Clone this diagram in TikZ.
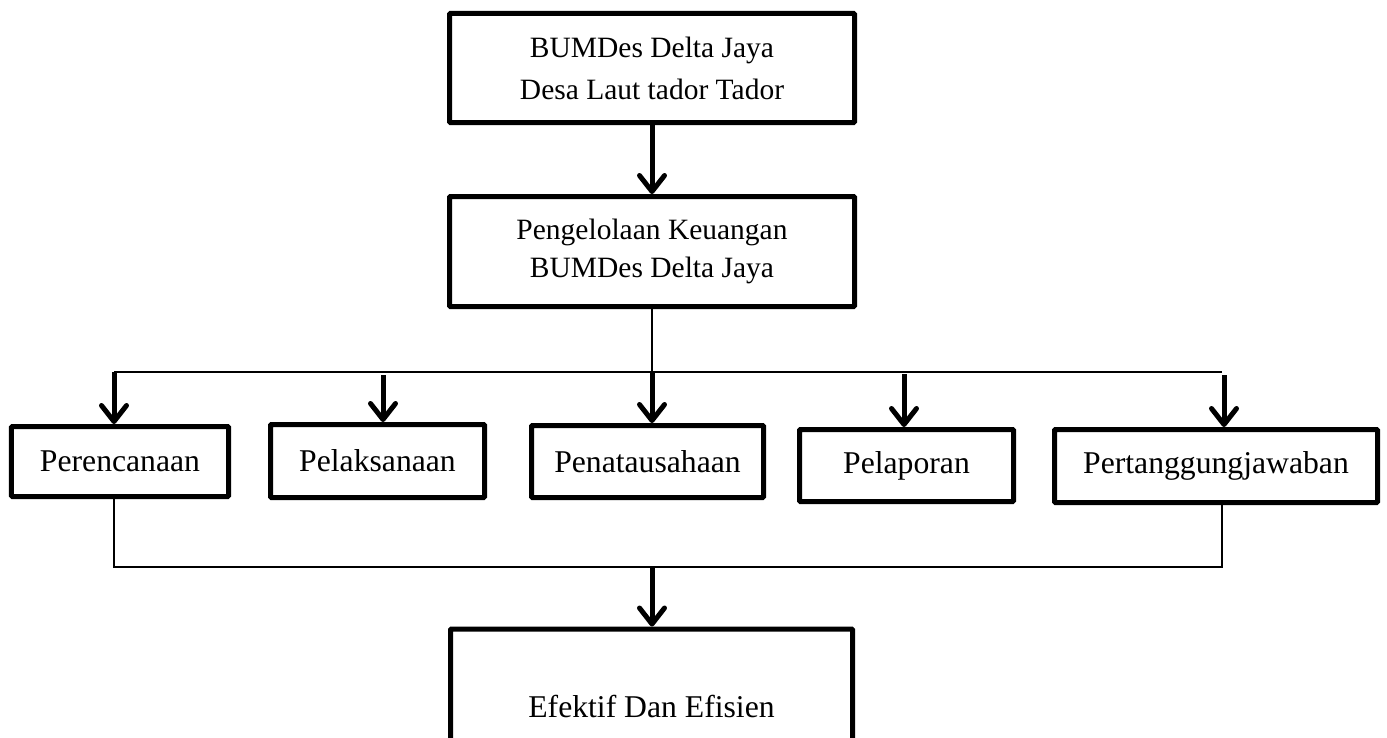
\documentclass[tikz,border=0pt]{standalone}
\usepackage{fontspec}
\setmainfont{Liberation Serif}
\usetikzlibrary{arrows.meta}
\begin{document}
\begin{tikzpicture}[x=1bp,y=-1bp,
  box/.style={draw, line width=5bp, inner sep=0pt, align=center, rounded corners=1bp,
    font=\fontsize{31.8}{40}\selectfont},
  thinline/.style={line width=1.4bp},
  arr/.style={line width=5bp, -{Straight Barb[length=16bp,width=25bp,round]}}]
\useasboundingbox (0,0) rectangle (1387,737);
\node[box, minimum width=405bp, minimum height=109bp, font=\fontsize{29.6}{42}\selectfont] (top) at (652,68) {BUMDes Delta Jaya\\Desa Laut tador Tador};
\node[box, minimum width=405bp, minimum height=110bp, font=\fontsize{29.6}{38}\selectfont] (mid) at (652,251.5) {Pengelolaan Keuangan\\BUMDes Delta Jaya};
\node[box, minimum width=217bp, minimum height=70bp] (per) at (120,461.5) {Perencanaan};
\node[box, minimum width=214bp, minimum height=73bp] (pel) at (377.5,461) {Pelaksanaan};
\node[box, minimum width=232bp, minimum height=72bp] (pen) at (647.5,461.5) {Penatausahaan};
\node[box, minimum width=214bp, minimum height=72bp] (lap) at (906.5,465.5) {Pelaporan};
\node[box, minimum width=323bp, minimum height=73bp] (tj) at (1216,466) {Pertanggungjawaban};
\node[box, minimum width=402bp, minimum height=154bp] (ef) at (651.5,706) {Efektif Dan Efisien};

\coordinate (busL) at (114,372);
\coordinate (busR) at (1222,372);
\coordinate (a2) at (383,375);
\coordinate (a3) at (652,372);
\coordinate (a4) at (904,374);
\coordinate (a5) at (1224,375);
\coordinate (lowL) at (114,567);
\coordinate (lowR) at (1222,567);
\coordinate (lowM) at (652,567);

\draw[arr] (top) -- (mid);
\draw[thinline] (mid.south) -- (a3);
\draw[thinline] (busL) -- (busR);
\draw[arr] (busL) -- (busL |- per.north);
\draw[arr] (a2) -- (a2 |- pel.north);
\draw[arr] (a3) -- (a3 |- pen.north);
\draw[arr] (a4) -- (a4 |- lap.north);
\draw[arr] (a5) -- (a5 |- tj.north);
\draw[thinline] (lowL |- per.south) -- (lowL) -- (lowR) -- (lowR |- tj.south);
\draw[arr] (lowM) -- (lowM |- ef.north);
\end{tikzpicture}
\end{document}
